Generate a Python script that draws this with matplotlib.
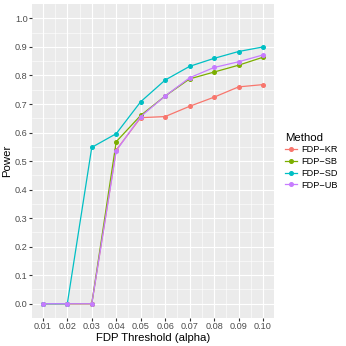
import matplotlib
matplotlib.use("Agg")
import matplotlib.pyplot as plt
import numpy as np

alpha = [0.01, 0.02, 0.03, 0.04, 0.05, 0.06, 0.07, 0.08, 0.09, 0.10]
methods = ["FDP\u2212KR", "FDP\u2212SB", "FDP\u2212SD", "FDP\u2212UB"]
power_kr = [0, 0, 0, 0.539, 0.652, 0.656, 0.692, 0.724, 0.760, 0.768]
power_sb = [0, 0, 0, 0.568, 0.660, 0.728, 0.788, 0.812, 0.836, 0.864]
power_sd = [0, 0, 0.548, 0.596, 0.708, 0.784, 0.832, 0.860, 0.884, 0.900]
power_ub = [0, 0, 0, 0.536, 0.656, 0.728, 0.792, 0.828, 0.848, 0.872]
colors = ["#F8766D", "#7CAE00", "#00BFC4", "#C77CFF"]

plt.rcParams["font.family"] = ["Liberation Sans", "DejaVu Sans"]

fig = plt.figure(figsize=(3.46, 3.46), dpi=100)
ax = fig.add_axes([0.092, 0.081, 0.70, 0.907])
ax.set_facecolor("#EBEBEB")

for name, vals, c in zip(methods, [power_kr, power_sb, power_sd, power_ub], colors):
    ax.plot(alpha, vals, color=c, lw=0.9, marker="o", ms=2.6, mec=c, label=name)

ax.set_xlim(0.0055, 0.1045)
ax.set_ylim(-0.05, 1.05)
ax.set_xticks(alpha)
ax.set_xticklabels([f"{a:.2f}" for a in alpha])
ax.set_yticks(np.arange(0, 1.01, 0.1))
ax.set_yticklabels([f"{v:.1f}" for v in np.arange(0, 1.01, 0.1)])
ax.set_xticks([a + 0.005 for a in alpha[:-1]], minor=True)
ax.set_yticks(np.arange(0.05, 1.0, 0.1), minor=True)
ax.grid(which="major", color="white", lw=0.8)
ax.grid(which="minor", color="white", lw=0.4)
ax.set_axisbelow(True)
for s in ax.spines.values():
    s.set_visible(False)
ax.tick_params(which="major", length=2, color="#333333", labelsize=6.6,
               labelcolor="#4D4D4D", pad=1)
ax.tick_params(which="minor", length=0)
ax.set_xlabel("FDP Threshold (alpha)", fontsize=8.2, labelpad=1.5)
ax.set_ylabel("Power", fontsize=8.2, labelpad=2)

leg = ax.legend(title="Method", loc="center left", bbox_to_anchor=(1.01, 0.5),
                frameon=False, fontsize=6.6, title_fontsize=8.2,
                handlelength=1.3, handletextpad=0.5, labelspacing=0.3)
leg._legend_box.align = "left"

fig.savefig("out.png", dpi=100)
